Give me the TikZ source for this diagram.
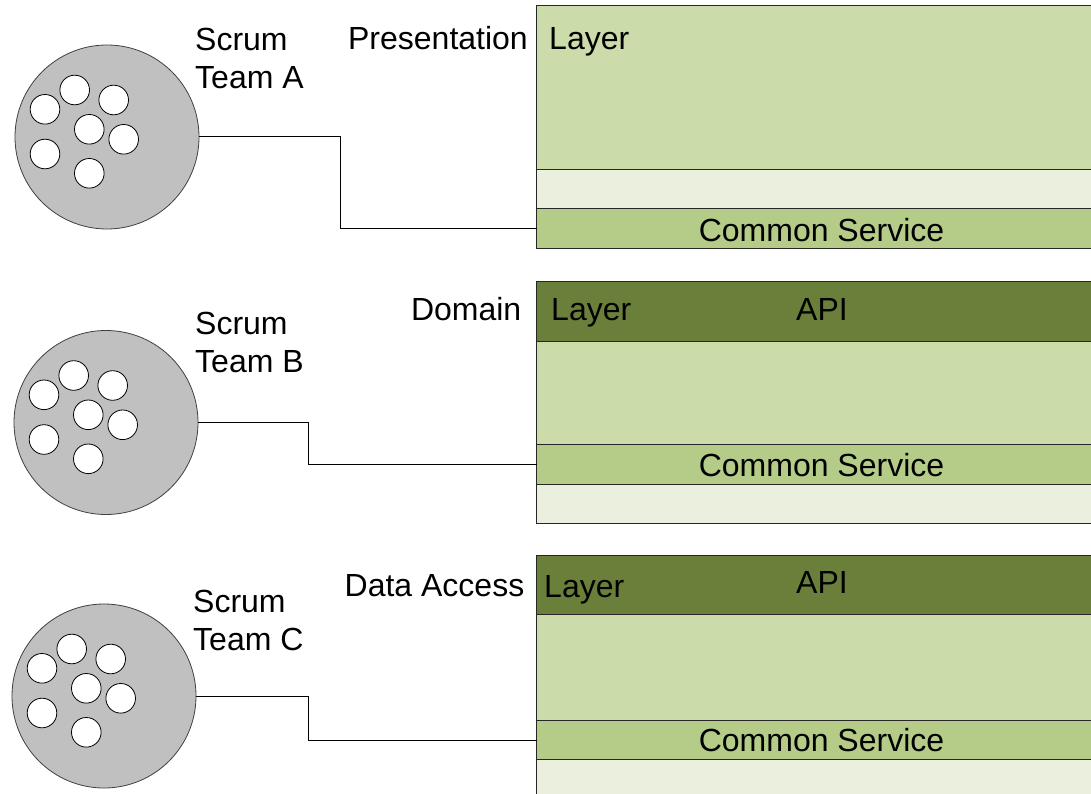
\documentclass[tikz,border=0pt]{standalone}
\usepackage{fontspec}
\setmainfont{Liberation Sans}
\definecolor{lg}{HTML}{CBDBA9}
\definecolor{vl}{HTML}{EBF0DE}
\definecolor{cs}{HTML}{B5CB88}
\definecolor{api}{HTML}{6A803A}
\definecolor{teamgray}{HTML}{C0C0C0}
\tikzset{
  band/.style={draw=black!85, line width=1pt, anchor=north west, inner sep=0pt, outer sep=0pt, minimum width=600pt},
  lbl/.style={inner sep=0pt, font=\fontsize{32}{38}\selectfont},
  team/.style={circle, draw=black!75, fill=teamgray, line width=0.8pt, minimum size=184pt, inner sep=0pt, outer sep=0pt},
  member/.style={circle, draw=black, fill=white, line width=0.8pt, minimum size=29.6pt, inner sep=0pt},
  link/.style={draw=black, line width=1pt}
}
\begin{document}
\begin{tikzpicture}[x=1pt,y=-1pt]
\useasboundingbox (0,0) rectangle (1091,794);
\clip (0,0) rectangle (1091,794);
\fill[white] (0,0) rectangle (1091,794);

% ---------- Box A : Presentation Layer ----------
\node[band, fill=lg, minimum height=164] (pA) at (536.5,6) {};
\node[band, fill=vl, minimum height=39] (eA) at (536.5,170) {};
\node[band, fill=cs, minimum height=39] (cA) at (536.5,209) {};
\node[lbl, anchor=base east] (presA) at (528,50) {Presentation};
\node[lbl, anchor=base west] (layA) at (549,50) {Layer};
\node[lbl, anchor=base] (csAt) at (821.5,241) {Common Service};

% ---------- Box B : Domain Layer ----------
\node[band, fill=api, minimum height=59.5] (aB) at (536.5,281.5) {};
\node[band, fill=lg, minimum height=103.3] (pB) at (536.5,341) {};
\node[band, fill=cs, minimum height=39.7] (cB) at (536.5,444.3) {};
\node[band, fill=vl, minimum height=39.3] (eB) at (536.5,484) {};
\node[lbl, anchor=base east] (domB) at (521.5,320.5) {Domain};
\node[lbl, anchor=base west] (layB) at (551,320.5) {Layer};
\node[lbl, anchor=base] (apiB) at (822,320.5) {API};
\node[lbl, anchor=base] (csBt) at (821.5,476) {Common Service};

% ---------- Box C : Data Access Layer ----------
\node[band, fill=api, minimum height=59] (aC) at (536.5,555) {};
\node[band, fill=lg, minimum height=106.5] (pC) at (536.5,614) {};
\node[band, fill=cs, minimum height=39] (cC) at (536.5,720.5) {};
\node[band, fill=vl, minimum height=60] (eC) at (536.5,759.5) {};
\node[lbl, anchor=base east] (dataC) at (524.5,596.5) {Data Access};
\node[lbl, anchor=base west] (layC) at (544,597) {Layer};
\node[lbl, anchor=base] (apiC) at (822,593.5) {API};
\node[lbl, anchor=base] (csCt) at (821.5,751) {Common Service};

% ---------- Teams ----------
\node[team] (tA) at (107,137) {};
\node[team] (tB) at (106,422.5) {};
\node[team] (tC) at (104,696) {};
\foreach \t in {tA,tB,tC}{
  \foreach \dx/\dy [count=\i] in {-32.3/-47, 6.7/-37, -62/-27.7, -17.7/-7.7, 16.7/2.3, -62/17, -17.7/36.3}{
    \node[member] (\t m\i) at ([shift={(\dx,\dy)}]\t.center) {};
  }
}
% base anchor of a two-line node is the baseline of its last line
\node[lbl, anchor=base west, align=left] (lA) at (195,88.3) {Scrum\\Team A};
\node[lbl, anchor=base west, align=left] (lB) at (195,372.3) {Scrum\\Team B};
\node[lbl, anchor=base west, align=left] (lC) at (193,650) {Scrum\\Team C};

% ---------- Connectors ----------
\coordinate (kA) at (340.5,0);
\coordinate (kB) at (308.5,0);
\coordinate (kC) at (308.5,0);
\draw[link] (tA.east) -| (kA |- cA.west) -- (cA.west);
\draw[link] (tB.east) -| (kB |- cB.west) -- (cB.west);
\draw[link] (tC.east) -| (kC |- cC.west) -- (cC.west);
\end{tikzpicture}
\end{document}
